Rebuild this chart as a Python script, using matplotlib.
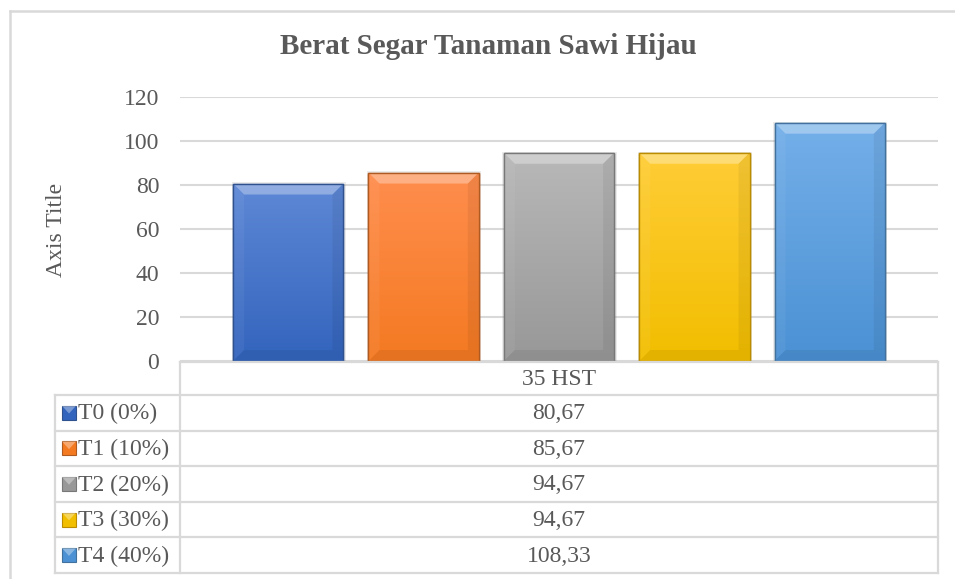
import numpy as np
import matplotlib.pyplot as plt
from matplotlib.lines import Line2D
from matplotlib.patches import Rectangle, Polygon
from matplotlib.colors import to_rgb

# data
treatments = ["T0 (0%)", "T1 (10%)", "T2 (20%)", "T3 (30%)", "T4 (40%)"]
fresh_weight = [80.67, 85.67, 94.67, 94.67, 108.33]
period = "35 HST"
y_ticks = [0, 20, 40, 60, 80, 100, 120]

# bar styling (top / bottom of gradient, outline)
top_colors = ["#5E88D6", "#FF8D4D", "#B8B8B8", "#FFCD36", "#74AFE9"]
bottom_colors = ["#3364BD", "#F47A22", "#989898", "#F2BE00", "#4B91D4"]
edge_colors = ["#2F528F", "#AE5A21", "#787878", "#BC8C00", "#41719C"]

TEXT = "#595959"
LINE = "#D9D9D9"
W, H = 955, 579

plt.rcParams['font.family'] = ['Liberation Serif', 'DejaVu Serif']
fig = plt.figure(figsize=(W / 100, H / 100), dpi=100)


def fx(px):
    return px / W


def fy(py):
    return 1 - py / H


def fig_line(x0, y0, x1, y1, lw=1.6):
    fig.add_artist(Line2D([fx(x0), fx(x1)], [fy(y0), fy(y1)],
                          color=LINE, lw=lw, transform=fig.transFigure))


# plot area
ax_left, ax_right, ax_top, ax_bottom = 180, 938, 97, 361
ax = fig.add_axes([fx(ax_left), fy(ax_bottom),
                   fx(ax_right) - fx(ax_left), fy(ax_top) - fy(ax_bottom)])

n = len(fresh_weight)
x = np.arange(n)
bar_w = 0.815
xlim = (-0.8, n - 0.2)
ylim = (0, 120)

bars = ax.bar(x, fresh_weight, width=bar_w, color=bottom_colors,
              edgecolor=edge_colors, linewidth=1.0, zorder=3)

# bevel size in data units (about 11 px)
bx = 11 * (xlim[1] - xlim[0]) / (ax_right - ax_left)
by = 11 * (ylim[1] - ylim[0]) / (ax_bottom - ax_top)

for i, bar in enumerate(bars):
    x0 = bar.get_x()
    x1 = x0 + bar.get_width()
    y1 = bar.get_height()

    # soft shadow
    ax.add_patch(Rectangle((x0 - 0.012, -0.5), x1 - x0 + 0.03, y1 + 1.0,
                           color="#7F7F7F", alpha=0.15, lw=0, zorder=2))

    # vertical gradient clipped to the bar
    c_top = np.array(to_rgb(top_colors[i]))
    c_bot = np.array(to_rgb(bottom_colors[i]))
    t = np.linspace(0, 1, 64)[:, None]
    grad = (c_top * (1 - t) + c_bot * t)[:, None, :]
    im = ax.imshow(grad, extent=(x0, x1, 0, y1), origin="upper",
                   aspect="auto", zorder=3.5, interpolation="bilinear")
    im.set_clip_path(bar)

    # bevel faces
    ax.add_patch(Polygon([(x0, y1), (x1, y1), (x1 - bx, y1 - by), (x0 + bx, y1 - by)],
                         closed=True, color="white", alpha=0.32, lw=0, zorder=4))
    ax.add_patch(Polygon([(x0, 0), (x0, y1), (x0 + bx, y1 - by), (x0 + bx, by)],
                         closed=True, color="white", alpha=0.05, lw=0, zorder=4))
    ax.add_patch(Polygon([(x1, 0), (x1, y1), (x1 - bx, y1 - by), (x1 - bx, by)],
                         closed=True, color="black", alpha=0.06, lw=0, zorder=4))
    ax.add_patch(Polygon([(x0, 0), (x1, 0), (x1 - bx, by), (x0 + bx, by)],
                         closed=True, color="black", alpha=0.06, lw=0, zorder=4))
    ax.add_patch(Rectangle((x0, 0), x1 - x0, y1, fill=False,
                           edgecolor=edge_colors[i], lw=1.0, zorder=5))

ax.set_xlim(*xlim)
ax.set_ylim(*ylim)
ax.set_yticks(y_ticks)
ax.set_xticks([])
ax.tick_params(axis="y", length=0, pad=15, labelsize=17, labelcolor=TEXT)
ax.grid(axis="y", color=LINE, lw=1.5, zorder=0)
for s in ax.spines.values():
    s.set_visible(False)

fig.text(fx(56), fy(230), "Axis Title", rotation=90, fontsize=17,
         color=TEXT, ha="center", va="center")
fig.text(fx(488), fy(47), "Berat Segar Tanaman Sawi Hijau", fontsize=21,
         fontweight="bold", color=TEXT, ha="center", va="center")

# outer chart frame
fig_line(10, 11, 955, 11, lw=1.8)
fig_line(10, 11, 10, 579, lw=1.8)

# data table below the plot
tab_left, col_x, tab_right = 55, 180, 938
head_top, row_top, tab_bottom = 362, 395, 573
row_h = (tab_bottom - row_top) / n

fig_line(col_x, head_top, tab_right, head_top)
fig_line(col_x, head_top, col_x, tab_bottom)
fig_line(tab_right, head_top, tab_right, tab_bottom)
fig_line(tab_left, row_top, tab_left, tab_bottom)
for r in range(n + 1):
    yy = row_top + r * row_h
    fig_line(tab_left, yy, tab_right, yy)

mid_x = (col_x + tab_right) / 2
fig.text(fx(mid_x), fy((head_top + row_top) / 2 + 1), period, fontsize=17,
         color=TEXT, ha="center", va="center")

key = 14
for r, (name, val) in enumerate(zip(treatments, fresh_weight)):
    cy = row_top + (r + 0.5) * row_h
    fig.text(fx(mid_x), fy(cy + 1), f"{val:.2f}".replace(".", ","), fontsize=17,
             color=TEXT, ha="center", va="center")
    fig.text(fx(78), fy(cy + 1), name, fontsize=17, color=TEXT,
             ha="left", va="center")
    # legend key with a small bevel
    kx0, ky0 = 62, cy - key / 2
    fig.add_artist(Rectangle((fx(kx0), fy(ky0 + key)), key / W, key / H,
                             facecolor=bottom_colors[r], edgecolor=edge_colors[r],
                             lw=0.8, transform=fig.transFigure))
    fig.add_artist(Polygon([(fx(kx0), fy(ky0)), (fx(kx0 + key), fy(ky0)),
                            (fx(kx0 + key / 2), fy(ky0 + key * 0.55))],
                           closed=True, facecolor="white", alpha=0.35, lw=0,
                           transform=fig.transFigure))

fig.savefig("out.png", dpi=100)
